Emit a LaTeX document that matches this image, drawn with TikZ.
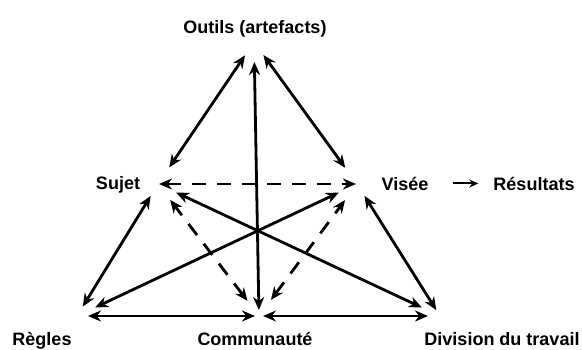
\documentclass[tikz,border=0pt]{standalone}
\usepackage{fontspec}
\setmainfont{Liberation Sans}
\usetikzlibrary{arrows.meta}

\begin{document}
\begin{tikzpicture}[>={Stealth[length=13pt, width=11pt]}, x=1pt, y=-1pt,
    link/.style={<->, line width=2.8pt},
    dlink/.style={link, dash pattern=on 14pt off 11pt},
    lbl/.style={font=\bfseries\fontsize{18}{20}\selectfont, inner sep=2pt, anchor=base}]
    \useasboundingbox (0,0) rectangle (583,349);

    % Corners of the activity triangle
    \coordinate (o) at (254,42);
    \coordinate (s) at (158,184);
    \coordinate (v) at (357,184);
    \coordinate (r) at (77,316);
    \coordinate (c) at (259,316);
    \coordinate (d) at (440,316);

    % Labels
    \node[lbl] (outils) at (255,33) {Outils (artefacts)};
    \node[lbl] (sujet) at (118,189) {Sujet};
    \node[lbl] (visee) at (405,190) {Visée};
    \node[lbl] (result) at (534,190) {Résultats};
    \node[lbl] (regles) at (42,345) {Règles};
    \node[lbl] (commu) at (255,345) {Communauté};
    \node[lbl] (divis) at (502,345) {Division du travail};

    % Tools
    \draw[link, shorten <=16pt, shorten >=20pt] (o) -- (s);
    \draw[link, shorten <=16pt, shorten >=20pt] (o) -- (v);
    \draw[link, shorten <=20pt, shorten >=6pt] (o) -- (c);

    % Subject -- object
    \draw[dlink, shorten <=1pt, shorten >=1pt] (s) -- (v);

    % Rules
    \draw[link, shorten <=11pt, shorten >=14pt] (r) -- (s);
    \draw[link, shorten <=20pt, shorten >=20pt] (r) -- (v);
    \draw[link, shorten <=11pt, shorten >=4pt] (r) -- (c);

    % Division of labour
    \draw[link, shorten <=20pt, shorten >=20pt] (d) -- (s);
    \draw[link, shorten <=7pt, shorten >=14pt] (d) -- (v);
    \draw[link, shorten <=12pt, shorten >=4pt] (d) -- (c);

    % Community
    \draw[dlink, shorten <=19pt, shorten >=20pt] (c) -- (s);
    \draw[dlink, shorten <=20pt, shorten >=20pt] (c) -- (v);

    % Outcome
    \draw[-{Stealth[length=9pt, width=8pt]}, line width=2pt, shorten <=22pt, shorten >=13pt]
        (visee) -- (result);
\end{tikzpicture}
\end{document}
